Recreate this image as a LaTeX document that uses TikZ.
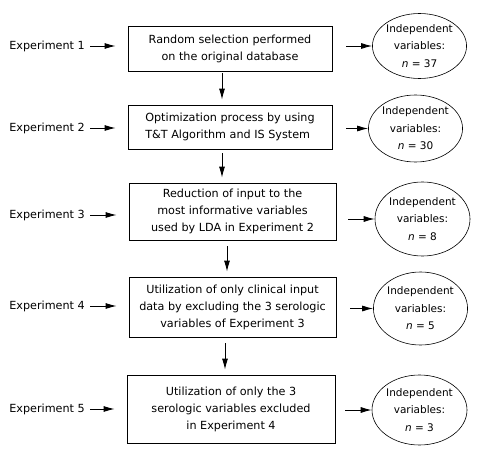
\documentclass[tikz,border=0pt]{standalone}
\usepackage{fontspec}
\setmainfont{DejaVu Sans}
\usetikzlibrary{arrows.meta,shapes.geometric}
\begin{document}
\begin{tikzpicture}[x=1pt,y=-1pt,
  font=\fontsize{11.2}{17}\selectfont,
  box/.style={draw,line width=0.8pt,minimum height=#1,align=center,inner sep=0pt},
  ell/.style={draw,ellipse,line width=0.6pt,minimum width=94pt,minimum height=#1,align=center,inner sep=0pt,font=\fontsize{10.5}{17.5}\selectfont},
  lab/.style={anchor=east,inner sep=0pt},
  arr/.style={-{Latex[length=11pt,width=6pt]},line width=0.9pt}]
\useasboundingbox (0,0) rectangle (477,452);
% boxes
\node[box=45pt,minimum width=204pt] (b1) at (230,48.5) {Random selection performed\\on the original database};
\node[box=44pt,minimum width=204pt,align=left] (b2) at (230,127) {Optimization process by using\\T\&T Algorithm and IS System};
\node[box=57pt,minimum width=207pt] (b3) at (232.5,211.5) {Reduction of input to the\\most informative variables\\used by LDA in Experiment 2};
\node[box=60pt,minimum width=207pt] (b4) at (232.5,307) {Utilization of only clinical input\\data by excluding the 3 serologic\\variables of Experiment 3};
\node[box=68pt,minimum width=208pt] (b5) at (231,409) {Utilization of only the 3\\serologic variables excluded\\in Experiment 4};
% ellipses
\node[ell=65pt] (e1) at (419.5,46) {Independent\\variables:\\\textit{n} = 37};
\node[ell=67pt] (e2) at (415.5,128.5) {Independent\\variables:\\\textit{n} = 30};
\node[ell=74pt,minimum width=95pt] (e3) at (422.5,219) {Independent\\variables:\\\textit{n} = 8};
\node[ell=73pt,minimum width=90pt] (e4) at (420.5,308.5) {Independent\\variables:\\\textit{n} = 5};
\node[ell=70pt,minimum width=95pt] (e5) at (419.5,410) {Independent\\variables:\\\textit{n} = 3};
% left labels
\node[lab] (l1) at (85,46) {Experiment 1};
\node[lab] (l2) at (85,128) {Experiment 2};
\node[lab] (l3) at (85,215) {Experiment 3};
\node[lab] (l4) at (85,306) {Experiment 4};
\node[lab] (l5) at (85,409) {Experiment 5};
% left arrows
\draw[arr] ([xshift=5pt]l1.east) -- ([xshift=-12pt]b1.west|-l1.east);
\draw[arr] ([xshift=5pt]l2.east) -- ([xshift=-12pt]b2.west|-l2.east);
\draw[arr] ([xshift=5pt]l3.east) -- ([xshift=-12pt]b3.west|-l3.east);
\draw[arr] ([xshift=5pt]l4.east) -- ([xshift=-12pt]b4.west|-l4.east);
\draw[arr] ([xshift=5pt]l5.east) -- ([xshift=-12pt]b5.west|-l5.east);
% right arrows
\draw[arr] ([xshift=14pt]b1.east|-e1.west) -- (e1.west);
\draw[arr] ([xshift=14pt]b2.east|-e2.west) -- (e2.west);
\draw[arr] ([xshift=12pt]b3.east|-e3.west) -- (e3.west);
\draw[arr] ([xshift=14pt]b4.east|-e4.west) -- (e4.west);
\draw[arr] ([xshift=10pt]b5.east|-e5.west) -- (e5.west);
% vertical arrows
\draw[arr] ([xshift=-8pt,yshift=-2pt]b1.south) -- ([xshift=-8pt,yshift=5pt]b2.north);
\draw[arr] ([xshift=-8pt,yshift=-4pt]b2.south) -- ([xshift=-10.5pt,yshift=5pt]b3.north);
\draw[arr] ([xshift=-5.5pt,yshift=-6pt]b3.south) -- ([xshift=-5.5pt,yshift=5pt]b4.north);
\draw[arr] ([xshift=-7.5pt,yshift=-6pt]b4.south) -- ([xshift=-6pt,yshift=5pt]b5.north);
\end{tikzpicture}
\end{document}
